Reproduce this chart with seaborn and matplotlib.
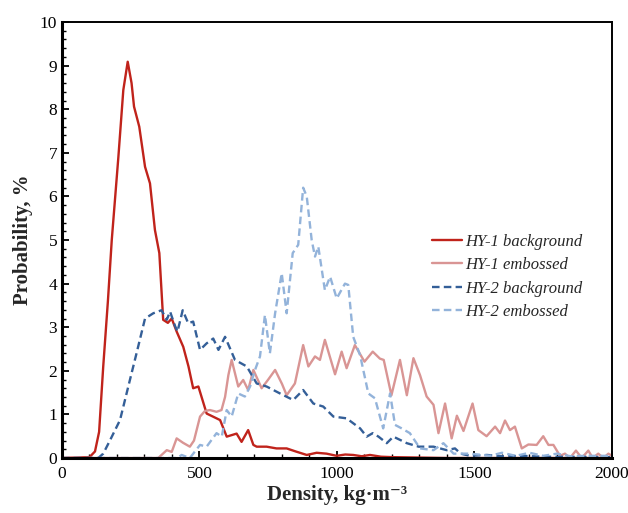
import numpy as np
import pandas as pd
import seaborn as sns
import matplotlib.pyplot as plt
from matplotlib.ticker import MultipleLocator

# density (kg/m3) vs probability (%)
hy1_bg_x = [0, 100, 120, 135, 150, 167, 181, 205, 223, 239, 253, 262, 281, 302, 320, 338, 354, 368, 385, 399,
            417, 441, 460, 477, 496, 526, 549, 575, 599, 635, 653, 677, 696, 708, 744, 780, 817, 850, 890, 926,
            962, 999, 1030, 1059, 1090, 1120, 1160, 1200, 1300, 1400, 2000]
hy1_bg_y = [0, 0.02, 0.15, 0.6, 2.1, 3.6, 5.0, 6.9, 8.44, 9.09, 8.6, 8.06, 7.6, 6.68, 6.3, 5.23, 4.7, 3.17, 3.1, 3.2,
            2.9, 2.55, 2.1, 1.6, 1.64, 1.02, 0.95, 0.87, 0.49, 0.56, 0.37, 0.64, 0.3, 0.26, 0.26, 0.22, 0.22, 0.15,
            0.07, 0.12, 0.1, 0.05, 0.08, 0.07, 0.04, 0.07, 0.03, 0.02, 0.01, 0, 0]

hy1_em_x = [0, 350, 381, 399, 417, 440, 465, 480, 502, 520, 538, 562, 580, 593, 605, 617, 641, 659, 677, 696,
            726, 750, 775, 800, 817, 847, 877, 896, 920, 938, 956, 993, 1017, 1035, 1065, 1100, 1130, 1156, 1170,
            1198, 1229, 1254, 1278, 1302, 1326, 1351, 1369, 1393, 1417, 1436, 1460, 1493, 1514, 1544, 1575, 1593,
            1611, 1629, 1647, 1672, 1696, 1726, 1750, 1769, 1787, 1811, 1829, 1847, 1869, 1890, 1914, 1930, 1950,
            1969, 1987, 2000]
hy1_em_y = [0, 0, 0.18, 0.14, 0.45, 0.35, 0.26, 0.4, 0.95, 1.08, 1.1, 1.06, 1.1, 1.4, 1.9, 2.25, 1.64, 1.79, 1.56,
            2.02, 1.6, 1.8, 2.02, 1.7, 1.44, 1.71, 2.59, 2.1, 2.33, 2.25, 2.71, 1.92, 2.44, 2.06, 2.59, 2.21, 2.44,
            2.28, 2.25, 1.44, 2.25, 1.44, 2.29, 1.9, 1.41, 1.22, 0.57, 1.25, 0.45, 0.97, 0.62, 1.25, 0.64, 0.5, 0.72,
            0.57, 0.86, 0.64, 0.72, 0.22, 0.31, 0.3, 0.5, 0.3, 0.3, 0.05, 0.1, 0, 0.17, 0, 0.17, 0, 0.1, 0, 0.1, 0.05]

hy2_bg_x = [0, 132, 150, 175, 211, 247, 271, 302, 332, 362, 381, 393, 411, 420, 439, 459, 477, 502, 526, 550,
            569, 593, 629, 672, 708, 744, 793, 841, 877, 914, 950, 987, 1035, 1084, 1108, 1130, 1151, 1181, 1205,
            1254, 1297, 1351, 1399, 1429, 1450, 1484, 1545, 1600, 1666, 1750, 2000]
hy2_bg_y = [0, 0, 0.1, 0.41, 0.87, 1.79, 2.4, 3.2, 3.32, 3.39, 3.17, 3.36, 3.03, 2.9, 3.39, 3.09, 3.13, 2.48, 2.63,
            2.74, 2.48, 2.78, 2.25, 2.1, 1.71, 1.64, 1.48, 1.33, 1.56, 1.25, 1.18, 0.95, 0.91, 0.68, 0.49, 0.57,
            0.49, 0.34, 0.49, 0.34, 0.26, 0.26, 0.18, 0.22, 0.1, 0.05, 0.07, 0.04, 0.05, 0.03, 0.02]

hy2_em_x = [0, 420, 435, 465, 502, 526, 562, 581, 599, 617, 641, 665, 684, 702, 720, 738, 756, 775, 799, 817,
            839, 859, 877, 890, 908, 920, 932, 956, 975, 999, 1029, 1041, 1059, 1084, 1114, 1138, 1168, 1193,
            1211, 1235, 1265, 1302, 1351, 1387, 1424, 1484, 1556, 1600, 1650, 1700, 1750, 1800, 1850, 1900, 2000]
hy2_em_y = [0, 0, 0.07, 0, 0.3, 0.26, 0.57, 0.49, 1.1, 0.95, 1.48, 1.41, 1.64, 2.02, 2.33, 3.28, 2.4, 3.32, 4.24,
            3.32, 4.7, 4.89, 6.2, 6.0, 5.0, 4.62, 4.85, 3.85, 4.16, 3.66, 4.0, 3.97, 2.78, 2.36, 1.48, 1.37, 0.68,
            1.48, 0.76, 0.68, 0.57, 0.22, 0.18, 0.34, 0.1, 0.1, 0.05, 0.12, 0.05, 0.12, 0.05, 0.1, 0.04, 0.05, 0.05]

series = [
    ("HY-1 background", hy1_bg_x, hy1_bg_y, "#C0231B", "-"),
    ("HY-1 embossed", hy1_em_x, hy1_em_y, "#D99594", "-"),
    ("HY-2 background", hy2_bg_x, hy2_bg_y, "#345F98", (0, (3.2, 1.8))),
    ("HY-2 embossed", hy2_em_x, hy2_em_y, "#93B3DA", (0, (3.2, 1.8))),
]

sns.set_theme(style="ticks")
plt.rcParams['font.family'] = ['Liberation Serif', 'DejaVu Serif']

fig = plt.figure(figsize=(6.28, 5.13), dpi=100)
ax = fig.add_axes([0.0987, 0.1072, 0.8758, 0.8498])

for name, xs, ys, col, ls in series:
    df = pd.DataFrame({'x': xs, 'y': ys})
    sns.lineplot(data=df, x='x', y='y', ax=ax, color=col, linewidth=1.7,
                 linestyle=ls, label=name, sort=False)

ax.set_xlim(0, 2000)
ax.set_ylim(0, 10)
ax.xaxis.set_major_locator(MultipleLocator(500))
ax.xaxis.set_minor_locator(MultipleLocator(100))
ax.yaxis.set_major_locator(MultipleLocator(1))
ax.yaxis.set_minor_locator(MultipleLocator(0.2))
ax.tick_params(which='both', direction='in', top=False, right=False, colors='black', labelsize=12.5)
ax.tick_params(which='major', length=5, width=1.3)
ax.tick_params(which='minor', length=3, width=1.0)
ax.tick_params(axis='x', pad=6)

for side in ['left', 'bottom']:
    ax.spines[side].set_linewidth(2.2)
for side in ['top', 'right']:
    ax.spines[side].set_linewidth(1.4)
for s in ax.spines.values():
    s.set_color('black')

ax.set_xlabel("Density, kg·m\u207b\u00b3", fontsize=15, fontweight='bold', labelpad=2)
ax.set_ylabel("Probability, %", fontsize=15, fontweight='bold', labelpad=5)

leg = ax.legend(loc='upper left', bbox_to_anchor=(0.66, 0.53), frameon=False,
                prop={'style': 'italic', 'size': 12}, handlelength=1.85, handletextpad=0.15,
                labelspacing=0.45, borderaxespad=0)

fig.savefig("out.png", dpi=100)
